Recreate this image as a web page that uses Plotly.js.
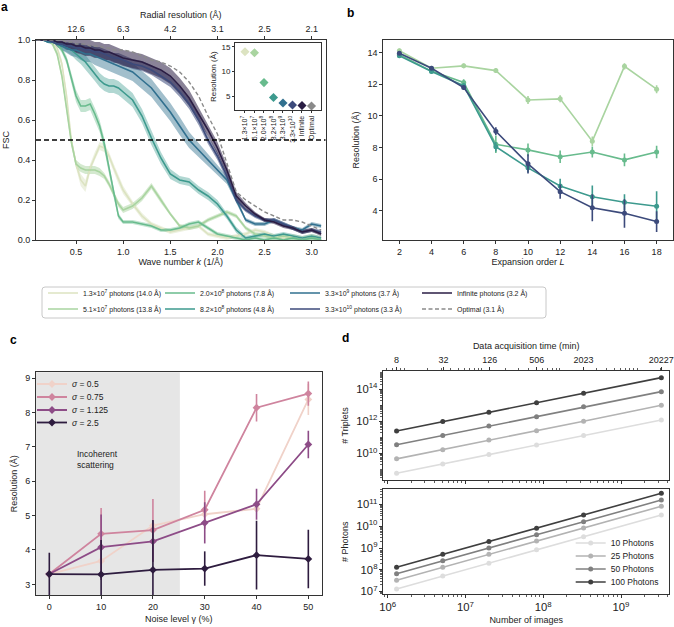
<!DOCTYPE html>
<html>
<head>
<meta charset="utf-8">
<script src="https://cdn.plot.ly/plotly-3.0.1.min.js"></script>
<style>
html,body{margin:0;padding:0;background:#fff;}
#chart{width:674px;height:627px;}
</style>
</head>
<body>
<div id="chart"></div>
<script>
// ================= DATA =================
// ---- Panel a: FSC versus wave number ----
const kGrid = [0.08,0.15,0.20,0.25,0.30,0.35,0.40,0.45,0.50,0.55,0.60,0.65,0.70,0.75,0.80,0.85,0.90,0.95,1.00,
               1.10,1.20,1.30,1.40,1.50,1.60,1.70,1.80,1.90,2.00,2.10,2.20,2.30,2.40,2.50,2.60,2.70,2.80,2.90,3.00,3.10];
const fsc_1_3e7 = [1.0,1.0,1.0,0.99,0.96,0.88,0.72,0.50,0.38,0.30,0.27,0.36,0.42,0.47,0.46,0.42,0.36,0.30,0.25,
                   0.18,0.12,0.08,0.06,0.04,0.05,0.06,0.07,0.03,0.02,0.01,0.02,0.03,0.05,0.04,0.02,0.01,0.02,0.01,0.02,0.01];
const fsc_5_1e7 = [1.0,1.0,1.0,0.98,0.93,0.82,0.66,0.49,0.38,0.36,0.35,0.35,0.35,0.34,0.32,0.28,0.23,0.18,0.15,
                   0.17,0.21,0.27,0.20,0.13,0.07,0.06,0.07,0.10,0.12,0.14,0.12,0.06,0.03,0.02,0.01,0.02,0.01,0.00,0.01,0.00];
const fsc_2_0e8 = [1.0,1.0,1.0,0.99,0.98,0.95,0.90,0.81,0.72,0.67,0.67,0.68,0.63,0.57,0.48,0.36,0.23,0.12,0.09,
                   0.09,0.08,0.07,0.05,0.05,0.06,0.08,0.09,0.06,0.03,0.02,0.01,0.00,0.01,0.00,0.01,0.00,0.01,0.00,0.01,0.00];
const fsc_8_2e8 = [1.0,1.0,0.99,0.99,0.98,0.97,0.96,0.95,0.93,0.91,0.89,0.86,0.83,0.80,0.78,0.77,0.77,0.76,0.74,
                   0.70,0.62,0.51,0.41,0.33,0.30,0.29,0.25,0.22,0.18,0.12,0.05,0.01,0.02,0.03,0.02,0.03,0.02,0.01,0.02,0.01];
const fsc_3_3e9 = [1.0,1.0,0.99,0.99,0.98,0.97,0.96,0.95,0.95,0.94,0.93,0.93,0.92,0.91,0.90,0.89,0.88,0.87,0.86,
                   0.84,0.80,0.76,0.70,0.64,0.57,0.50,0.45,0.40,0.35,0.30,0.20,0.10,0.08,0.08,0.10,0.08,0.06,0.05,0.08,0.07];
const fsc_3_3e10 = [1.0,1.0,1.0,0.99,0.98,0.98,0.97,0.97,0.96,0.96,0.95,0.95,0.94,0.94,0.93,0.92,0.91,0.91,0.90,
                    0.88,0.87,0.85,0.82,0.79,0.74,0.68,0.60,0.50,0.42,0.32,0.20,0.15,0.12,0.10,0.10,0.08,0.06,0.04,0.05,0.04];
const fsc_infinite = [1.0,1.0,1.0,1.0,0.99,0.99,0.98,0.98,0.97,0.97,0.96,0.96,0.95,0.95,0.94,0.94,0.93,0.92,0.91,
                      0.90,0.89,0.87,0.85,0.82,0.77,0.71,0.63,0.55,0.46,0.35,0.22,0.17,0.13,0.10,0.09,0.07,0.06,0.04,0.05,0.03];
const fsc_optimal = [1.0,1.0,1.0,1.0,1.0,1.0,0.99,0.99,0.98,0.98,0.98,0.97,0.97,0.97,0.96,0.96,0.95,0.95,0.95,
                     0.94,0.92,0.90,0.89,0.87,0.84,0.79,0.72,0.62,0.53,0.38,0.24,0.20,0.17,0.14,0.12,0.10,0.10,0.09,0.07,0.05];
// half-widths of the shaded bands
const err_1_3e7 = [0,0,0.005,0.01,0.015,0.02,0.02,0.02,0.02,0.03,0.03,0.02,0.02,0.02,0.02,0.02,0.02,0.02,0.02,
                   0.015,0.015,0.01,0.01,0.01,0.01,0.01,0.01,0.01,0.01,0.01,0.01,0.01,0.01,0.01,0.01,0.01,0.01,0.01,0.01,0.01];
const err_5_1e7 = [0,0,0.005,0.01,0.015,0.02,0.02,0.02,0.02,0.02,0.02,0.02,0.02,0.02,0.015,0.015,0.015,0.015,0.015,
                   0.015,0.015,0.015,0.015,0.01,0.01,0.01,0.01,0.01,0.01,0.01,0.01,0.01,0.01,0.01,0.01,0.01,0.01,0.01,0.01,0.01];
const err_2_0e8 = [0,0,0.005,0.01,0.01,0.015,0.02,0.025,0.03,0.03,0.03,0.03,0.03,0.03,0.03,0.025,0.02,0.015,0.01,
                   0.01,0.01,0.01,0.01,0.01,0.01,0.01,0.01,0.01,0.01,0.01,0.01,0.01,0.01,0.01,0.01,0.01,0.01,0.01,0.01,0.01];
const err_8_2e8 = [0,0,0.005,0.01,0.015,0.02,0.02,0.025,0.03,0.03,0.035,0.035,0.035,0.035,0.035,0.035,0.035,0.035,0.035,
                   0.035,0.035,0.035,0.03,0.025,0.02,0.02,0.02,0.02,0.02,0.015,0.015,0.01,0.01,0.01,0.01,0.01,0.01,0.01,0.01,0.01];
const err_3_3e9 = [0,0,0.005,0.01,0.015,0.02,0.025,0.03,0.035,0.04,0.04,0.04,0.045,0.045,0.045,0.045,0.045,0.045,0.045,
                   0.045,0.045,0.045,0.045,0.045,0.045,0.04,0.035,0.03,0.025,0.02,0.015,0.01,0.01,0.01,0.01,0.01,0.01,0.01,0.01,0.01];
const err_3_3e10 = [0,0,0.005,0.01,0.01,0.015,0.02,0.02,0.02,0.025,0.025,0.025,0.025,0.025,0.025,0.025,0.025,0.025,0.025,
                    0.025,0.025,0.025,0.025,0.025,0.025,0.025,0.025,0.02,0.02,0.02,0.015,0.01,0.01,0.01,0.01,0.01,0.01,0.01,0.01,0.01];
const err_infinite = [0,0,0.005,0.01,0.015,0.02,0.025,0.03,0.035,0.04,0.04,0.04,0.04,0.04,0.04,0.04,0.04,0.04,0.04,
                      0.04,0.04,0.04,0.04,0.04,0.04,0.04,0.035,0.03,0.03,0.025,0.02,0.015,0.01,0.01,0.01,0.01,0.01,0.01,0.01,0.01];
const radialTickK = [0.5, 1.0, 1.5, 2.0, 2.5, 3.0];
const radialTickLabels = ['12.6', '6.3', '4.2', '3.1', '2.5', '2.1'];
const seriesNames = ['1.3×10<sup>7</sup> photons (14.0 Å)', '5.1×10<sup>7</sup> photons (13.8 Å)',
                     '2.0×10<sup>8</sup> photons (7.8 Å)', '8.2×10<sup>8</sup> photons (4.8 Å)',
                     '3.3×10<sup>9</sup> photons (3.7 Å)', '3.3×10<sup>10</sup> photons (3.3 Å)',
                     'Infinite photons (3.2 Å)', 'Optimal (3.1 Å)'];

// ---- Panel a inset ----
const insetCategories = ['1.3×10<sup>7</sup>', '5.1×10<sup>7</sup>', '2.0×10<sup>8</sup>', '8.2×10<sup>8</sup>',
                         '3.3×10<sup>9</sup>', '3.3×10<sup>10</sup>', 'Infinite', 'Optimal'];
const insetResolution = [14.0, 13.8, 7.8, 4.8, 3.7, 3.3, 3.2, 3.1];

// ---- Panel b ----
const expansionOrder = [2, 4, 6, 8, 10, 12, 14, 16, 18];
const resL_5_1e7 = [14.1, 13.0, 13.15, 12.85, 11.0, 11.07, 8.4, 13.12, 11.68];
const errL_5_1e7 = [0.15, 0.12, 0.15, 0.15, 0.25, 0.22, 0.3, 0.2, 0.25];
const resL_2_0e8 = [13.85, 12.82, 12.1, 8.2, 7.85, 7.42, 7.72, 7.22, 7.72];
const errL_2_0e8 = [0.15, 0.15, 0.2, 0.55, 0.4, 0.4, 0.35, 0.4, 0.4];
const resL_8_2e8 = [13.78, 12.8, 11.9, 8.05, 6.72, 5.58, 4.9, 4.55, 4.3];
const errL_8_2e8 = [0.1, 0.1, 0.15, 0.3, 0.3, 0.45, 0.7, 0.5, 0.95];
const resL_3_3e10 = [13.95, 13.0, 11.78, 9.03, 6.97, 5.22, 4.2, 3.85, 3.33];
const errL_3_3e10 = [0.1, 0.1, 0.15, 0.25, 0.6, 0.45, 0.85, 0.9, 0.65];

// ---- Panel c ----
const noiseLevel = [0, 10, 20, 30, 40, 50];
const sigmaNames = ['<i>σ</i> = 0.5', '<i>σ</i> = 0.75', '<i>σ</i> = 1.125', '<i>σ</i> = 2.5'];
const resSigma0_5 = [3.3, 3.68, 4.71, 5.04, 5.2, 8.38];
const errSigma0_5 = [0.05, 0.08, 0.1, 0.08, 0.08, 0.45];
const resSigma0_75 = [3.3, 4.47, 4.58, 5.17, 8.14, 8.55];
const errSigma0_75 = [0.05, 0.75, 0.9, 0.55, 0.4, 0.35];
const resSigma1_125 = [3.3, 4.08, 4.25, 4.79, 5.33, 7.07];
const errSigma1_125 = [0.05, 0.95, 0.6, 0.6, 0.45, 0.4];
const resSigma2_5 = [3.3, 3.29, 3.42, 3.46, 3.85, 3.74];
const errSigma2_5 = [0.62, 1.0, 1.45, 0.5, 1.0, 0.85];

// ---- Panel d ----
const numImages = [1.3e6, 5.1e6, 2.0e7, 8.2e7, 3.3e8, 3.3e9];
const acqTime = [8, 32, 126, 506, 2023, 20227];
const acqTimeLabels = ['8', '32', '126', '506', '2023', '20227'];
const photonNames = ['10 Photons', '25 Photons', '50 Photons', '100 Photons'];
const triplets10 = [5.9e8, 2.2e9, 8.5e9, 3.4e10, 1.3e11, 1.2e12];
const triplets25 = [4.6e9, 1.7e10, 6.9e10, 2.6e11, 1.0e12, 9.8e12];
const triplets50 = [3.5e10, 1.3e11, 5.1e11, 1.9e12, 7.8e12, 6.9e13];
const triplets100 = [2.5e11, 9.5e11, 3.6e12, 1.4e13, 5.5e13, 5.1e14];
const photons10 = [1.3e7, 5.1e7, 2.0e8, 8.2e8, 3.3e9, 3.3e10];
const photons25 = [3.3e7, 1.3e8, 5.1e8, 2.1e9, 8.3e9, 8.3e10];
const photons50 = [6.5e7, 2.6e8, 1.0e9, 4.1e9, 1.6e10, 1.6e11];
const photons100 = [1.3e8, 5.1e8, 2.0e9, 8.2e9, 3.3e10, 3.3e11];

// ================= STYLE / LAYOUT HELPERS =================
const W = 674, H = 627;
const FONT = 'Liberation Sans, Arial, sans-serif';
const TXT = '#222';
const AX = '#333';
const dx = (a, b) => [a / W, b / W];
const dy = (top, bottom) => [1 - bottom / H, 1 - top / H];

const photonColors = ['#dce3c1', '#a9d4a0', '#68bb8d', '#3d9a8e', '#31708f', '#3c4a7b', '#2a1d44', '#8a8a8a'];
const bandAlpha = [0.5, 0.5, 0.4, 0.4, 0.45, 0.55, 0.55];
const sigmaColors = ['#f0d2c9', '#cf849e', '#8d4c87', '#2e1c3f'];
const grayColors = ['#dddddd', '#b3b3b3', '#808080', '#3f3f3f'];

function rgba(hex, a) {
  const n = parseInt(hex.slice(1), 16);
  return `rgba(${(n >> 16) & 255},${(n >> 8) & 255},${n & 255},${a})`;
}
function axis(extra) {
  return Object.assign({
    showline: true, linecolor: AX, linewidth: 1, mirror: true,
    ticks: 'outside', ticklen: 3, tickwidth: 1, tickcolor: AX,
    showgrid: false, zeroline: false, fixedrange: true, autorange: false,
    tickfont: {family: FONT, size: 9, color: TXT}
  }, extra);
}
function ttl(text, extra) {
  return Object.assign({text: text, font: {family: FONT, size: 9, color: TXT}}, extra || {});
}
function legendAt(xText, yRow, size) {
  // xText: pixel where the legend text should start, yRow: pixel row centre
  return {x: (xText - 40) / W, y: 1 - yRow / H, xanchor: 'left', yanchor: 'middle',
          bgcolor: 'rgba(0,0,0,0)', borderwidth: 0, itemwidth: 30, tracegroupgap: 0,
          font: {family: FONT, size: size, color: TXT}};
}

// ================= TRACES =================
const traces = [];

// ---- panel a ----
const fscSeries = [fsc_1_3e7, fsc_5_1e7, fsc_2_0e8, fsc_8_2e8, fsc_3_3e9, fsc_3_3e10, fsc_infinite];
const errSeries = [err_1_3e7, err_5_1e7, err_2_0e8, err_8_2e8, err_3_3e9, err_3_3e10, err_infinite];
const abLegends = ['legend', 'legend2', 'legend3', 'legend4', 'legend5', 'legend6', 'legend7', 'legend8'];

fscSeries.forEach((ys, i) => {
  const up = ys.map((v, j) => v + errSeries[i][j]);
  const lo = ys.map((v, j) => v - errSeries[i][j]);
  traces.push({
    type: 'scatter', mode: 'lines', xaxis: 'x', yaxis: 'y',
    x: kGrid.concat(kGrid.slice().reverse()),
    y: up.concat(lo.slice().reverse()),
    fill: 'toself', fillcolor: rgba(photonColors[i], bandAlpha[i]),
    line: {width: 0}, showlegend: false, hoverinfo: 'skip', legend: abLegends[i]
  });
});
fscSeries.forEach((ys, i) => {
  traces.push({
    type: 'scatter', mode: 'lines', xaxis: 'x', yaxis: 'y',
    x: kGrid, y: ys, name: seriesNames[i], legend: abLegends[i],
    line: {color: photonColors[i], width: 1.6}
  });
});
traces.push({
  type: 'scatter', mode: 'lines', xaxis: 'x', yaxis: 'y',
  x: kGrid, y: fsc_optimal, name: seriesNames[7], legend: abLegends[7],
  line: {color: photonColors[7], width: 1.4, dash: '4px,2.5px'}
});
// top axis carrier (radial resolution)
traces.push({type: 'scatter', mode: 'markers', xaxis: 'x2', yaxis: 'y',
  x: radialTickK, y: radialTickK.map(() => null), showlegend: false, hoverinfo: 'skip'});

// ---- inset ----
traces.push({
  type: 'scatter', mode: 'markers', xaxis: 'x3', yaxis: 'y3',
  x: insetCategories, y: insetResolution, showlegend: false,
  marker: {symbol: 'diamond', size: 7, color: photonColors}
});

// ---- panel b ----
const bSeries = [[resL_5_1e7, errL_5_1e7, 1], [resL_2_0e8, errL_2_0e8, 2],
                 [resL_8_2e8, errL_8_2e8, 3], [resL_3_3e10, errL_3_3e10, 5]];
bSeries.forEach(([ys, es, ci]) => {
  traces.push({
    type: 'scatter', mode: 'lines+markers', xaxis: 'x4', yaxis: 'y4',
    x: expansionOrder, y: ys, showlegend: false,
    error_y: {type: 'data', array: es, visible: true, width: 0, thickness: 1.6, color: photonColors[ci]},
    line: {color: photonColors[ci], width: 1.6},
    marker: {color: photonColors[ci], size: 5}
  });
});

// ---- panel c ----
const cSeries = [[resSigma0_5, errSigma0_5], [resSigma0_75, errSigma0_75],
                 [resSigma1_125, errSigma1_125], [resSigma2_5, errSigma2_5]];
cSeries.forEach(([ys, es], i) => {
  traces.push({
    type: 'scatter', mode: 'lines+markers', xaxis: 'x5', yaxis: 'y5',
    x: noiseLevel, y: ys, name: sigmaNames[i], legend: 'legend' + (9 + i),
    error_y: {type: 'data', array: es, visible: true, width: 0, thickness: 1.6, color: sigmaColors[i]},
    line: {color: sigmaColors[i], width: 1.8},
    marker: {color: sigmaColors[i], size: 6, symbol: 'diamond'}
  });
});

// ---- panel d ----
const tripSeries = [triplets10, triplets25, triplets50, triplets100];
const photSeries = [photons10, photons25, photons50, photons100];
tripSeries.forEach((ys, i) => {
  traces.push({
    type: 'scatter', mode: 'lines+markers', xaxis: 'x6', yaxis: 'y6',
    x: numImages, y: ys, showlegend: false,
    line: {color: grayColors[i], width: 1.6}, marker: {color: grayColors[i], size: 5}
  });
});
photSeries.forEach((ys, i) => {
  traces.push({
    type: 'scatter', mode: 'lines+markers', xaxis: 'x8', yaxis: 'y8',
    x: numImages, y: ys, name: photonNames[i], legend: 'legend' + (13 + i),
    line: {color: grayColors[i], width: 1.6}, marker: {color: grayColors[i], size: 5}
  });
});
// top axis carrier (acquisition time)
traces.push({type: 'scatter', mode: 'markers', xaxis: 'x7', yaxis: 'y6',
  x: acqTime, y: acqTime.map(() => null), showlegend: false, hoverinfo: 'skip'});

// ================= LAYOUT =================
const dRange = [5.943, 9.617];
const timeOffset = Math.log10(acqTime[0]) - Math.log10(numImages[0]);
const minorLog = {ticks: 'outside', ticklen: 2, tickwidth: 0.8, tickcolor: AX, dtick: 'D1', showgrid: false};

const layout = {
  width: W, height: H,
  margin: {l: 0, r: 0, t: 0, b: 0, pad: 0},
  paper_bgcolor: '#fff', plot_bgcolor: '#fff',
  font: {family: FONT, size: 9, color: TXT},
  showlegend: true,
  // panel a
  xaxis: axis({domain: dx(36, 325.5), anchor: 'y', range: [0.0754, 3.1465], mirror: false,
               dtick: 0.5, tick0: 0, tickformat: '.1f',
               title: ttl('Wave number <i>k</i> (1/Å)', {standoff: 0})}),
  xaxis2: axis({overlaying: 'x', side: 'top', anchor: 'y', range: [0.0754, 3.1465], mirror: false,
                tickmode: 'array', tickvals: radialTickK, ticktext: radialTickLabels,
                title: ttl('Radial resolution (Å)', {standoff: 4})}),
  yaxis: axis({domain: dy(40, 240), anchor: 'x', range: [0, 1], dtick: 0.2, tickformat: '.1f',
               title: ttl('FSC', {standoff: 6})}),
  // inset
  xaxis3: axis({domain: dx(235, 321), anchor: 'y3', type: 'category', range: [-1.05, 8.0],
                tickangle: -90, ticklen: 2, tickfont: {family: FONT, size: 7, color: TXT},
                categoryorder: 'array', categoryarray: insetCategories}),
  yaxis3: axis({domain: dy(43.3, 110), anchor: 'x3', range: [2.3, 15.7], tickvals: [5, 10, 15], ticklen: 2,
                tickfont: {family: FONT, size: 8, color: TXT},
                title: ttl('Resolution (Å)', {font: {family: FONT, size: 8, color: TXT}, standoff: 3})}),
  // panel b
  xaxis4: axis({domain: dx(383.3, 672.7), anchor: 'y4', range: [1, 19], dtick: 2, tick0: 0,
                title: ttl('Expansion order <i>L</i>', {standoff: 0})}),
  yaxis4: axis({domain: dy(40, 240), anchor: 'x4', range: [2.17, 14.78], dtick: 2, tick0: 0,
                title: ttl('Resolution (Å)', {standoff: 6})}),
  // panel c
  xaxis5: axis({domain: dx(36, 321.7), anchor: 'y5', range: [-2.57, 52.58], dtick: 10, tick0: 0,
                title: ttl('Noise level γ (%)', {standoff: 4})}),
  yaxis5: axis({domain: dy(372.3, 595), anchor: 'x5', range: [2.69, 9.17], dtick: 1, tick0: 0,
                title: ttl('Resolution (Å)', {standoff: 6})}),
  // panel d top (triplets)
  xaxis6: axis({domain: dx(383.3, 669), anchor: 'y6', type: 'log', range: dRange, mirror: false,
                showticklabels: false, dtick: 1, minor: minorLog}),
  xaxis7: axis({overlaying: 'x6', side: 'top', anchor: 'y6', type: 'log', mirror: false,
                range: dRange.map(v => v + timeOffset),
                tickmode: 'array', tickvals: acqTime, ticktext: acqTimeLabels, minor: minorLog,
                title: ttl('Data acquisition time (min)', {standoff: 4})}),
  yaxis6: axis({domain: dy(371, 480), anchor: 'x6', type: 'log', range: [8.35, 15.12], dtick: 2,
                exponentformat: 'power', minor: minorLog,
                title: ttl('# Triplets', {standoff: 6})}),
  // panel d bottom (photons)
  xaxis8: axis({domain: dx(383.3, 669), anchor: 'y8', type: 'log', range: dRange, dtick: 1,
                exponentformat: 'power', minor: minorLog,
                title: ttl('Number of images', {standoff: 4})}),
  yaxis8: axis({domain: dy(489.3, 594.3), anchor: 'x8', type: 'log', range: [6.87, 11.70], dtick: 1,
                exponentformat: 'power', minor: minorLog,
                title: ttl('# Photons', {standoff: 6})}),
  shapes: [],
  annotations: []
};

// legends for panels a/b (column-major, 4 columns x 2 rows)
const colText = [83, 200, 325, 457];
const rowY = [293, 309];
for (let i = 0; i < 8; i++) {
  layout[abLegends[i]] = legendAt(colText[Math.floor(i / 2)], rowY[i % 2], 7);
}
// legends for panel c
[384, 397, 410, 422.5].forEach((y, i) => { layout['legend' + (9 + i)] = legendAt(72, y, 8.5); });
// legends for panel d
[543, 556, 569, 582].forEach((y, i) => { layout['legend' + (13 + i)] = legendAt(610.7, y, 8.5); });

// rounded legend frame for a/b
(function () {
  const x0 = 42 / W, x1 = 546 / W, yT = 1 - 287 / H, yB = 1 - 318 / H, rx = 3 / W, ry = 3 / H;
  layout.shapes.push({
    type: 'path', xref: 'paper', yref: 'paper', layer: 'below',
    path: `M${x0 + rx},${yT} L${x1 - rx},${yT} Q${x1},${yT} ${x1},${yT - ry} L${x1},${yB + ry} Q${x1},${yB} ${x1 - rx},${yB} ` +
          `L${x0 + rx},${yB} Q${x0},${yB} ${x0},${yB + ry} L${x0},${yT - ry} Q${x0},${yT} ${x0 + rx},${yT} Z`,
    line: {color: '#c8c8c8', width: 1}, fillcolor: 'rgba(0,0,0,0)'
  });
})();
// FSC = 0.5 threshold
layout.shapes.push({type: 'line', xref: 'x domain', yref: 'y', x0: 0, x1: 1, y0: 0.5, y1: 0.5,
                    line: {color: '#000', width: 1.6, dash: '5px,3px'}});
// incoherent scattering region
layout.shapes.push({type: 'rect', xref: 'x5', yref: 'y5 domain', x0: -2.57, x1: 25.2, y0: 0, y1: 1,
                    fillcolor: '#e6e6e6', line: {width: 0}, layer: 'below'});

layout.annotations.push(
  {xref: 'x5', yref: 'y5', x: 5, y: 6.62, text: 'Incoherent<br>scattering', showarrow: false,
   xanchor: 'left', yanchor: 'middle', align: 'left', font: {family: FONT, size: 8.5, color: TXT}}
);
[['a', 4, 7], ['b', 350, 13], ['c', 13, 340], ['d', 345, 338]].forEach(([t, x, y]) => {
  layout.annotations.push({xref: 'paper', yref: 'paper', x: x / W, y: 1 - y / H, text: '<b>' + t + '</b>',
    showarrow: false, xanchor: 'center', yanchor: 'middle', font: {family: FONT, size: 12, color: '#000'}});
});

Plotly.newPlot('chart', traces, layout, {staticPlot: true, displayModeBar: false});
</script>
</body>
</html>
